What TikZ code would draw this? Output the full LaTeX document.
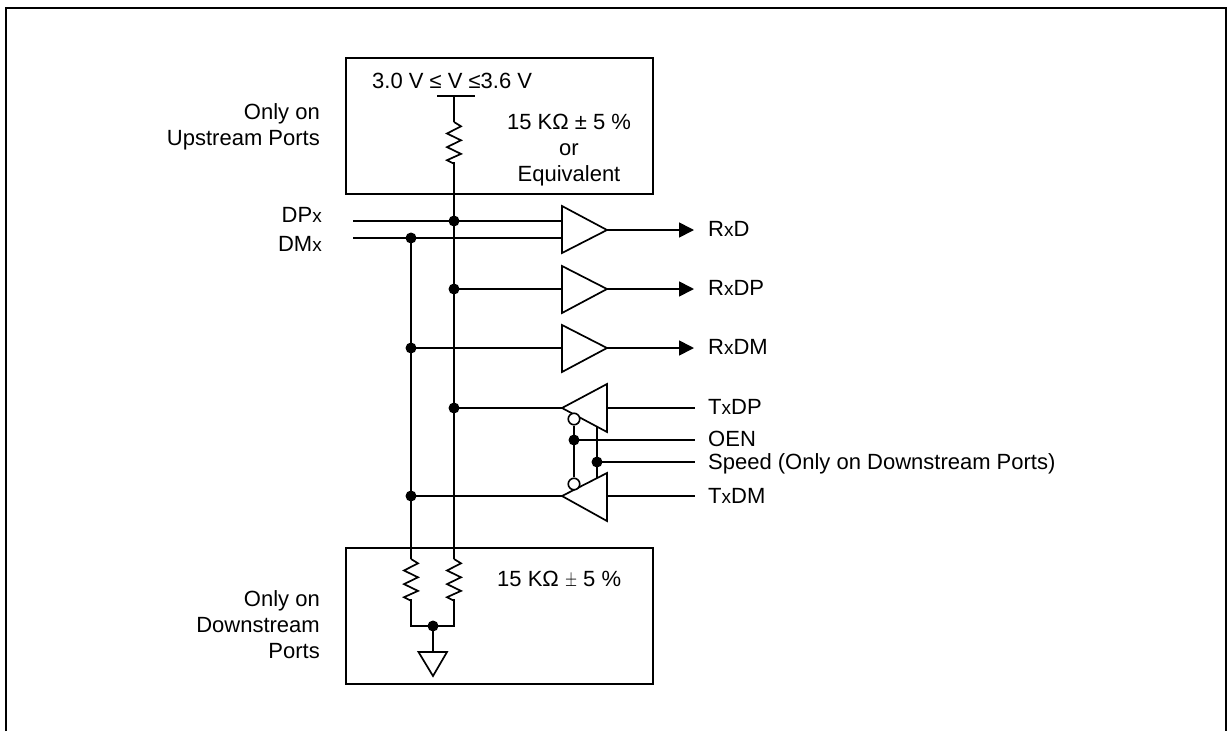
\documentclass[tikz,border=0pt]{standalone}
\usepackage{fontspec}
\setmainfont{Liberation Sans}
\usetikzlibrary{arrows.meta}
\newcommand{\smx}{{\fontsize{19}{19}\selectfont x}}
\tikzset{
  wire/.style={draw=black,line width=1.7pt,line join=miter},
  boxframe/.style={draw=black,line width=2pt,fill=none},
  outerframe/.style={draw=black,line width=2.2pt},
  amp/.style={draw=black,line width=1.7pt,fill=white,line join=miter},
  dotnode/.style={circle,fill=black,draw=none,inner sep=0pt,minimum size=11pt},
  bubble/.style={circle,fill=white,draw=black,line width=1.6pt,inner sep=0pt,minimum size=11.5pt},
  lbl/.style={inner sep=0pt,font=\fontsize{22}{26}\selectfont,text=black},
  lblL/.style={lbl,anchor=base west},
  lblR/.style={lbl,anchor=base east,align=right},
  lblC/.style={lbl,anchor=base,align=center},
  arrowwire/.style={wire,-{Triangle[length=15pt,width=15pt]}},
  resistor/.pic={\draw[wire] (0,0)--++(7,4.3)--++(-14,7.2)--++(14,6.8)--++(-14,6.8)--++(14,6.8)--++(-14,6.3)--++(7,3.6);}
}
\begin{document}
\begin{tikzpicture}[x=1pt,y=-1pt]
\useasboundingbox (0,0) rectangle (1228,731);
% outer frame, open at the bottom
\coordinate (fbl) at (6,731); \coordinate (ftl) at (6,8);
\coordinate (ftr) at (1226,8); \coordinate (fbr) at (1226,731);
\draw[outerframe] (fbl)--(ftl)--(ftr)--(fbr);
% boxes
\node[boxframe,minimum width=307pt,minimum height=136pt,inner sep=0pt,anchor=north west] (topbox) at (345,57) {};
\node[boxframe,minimum width=307pt,minimum height=136pt,inner sep=0pt,anchor=north west] (botbox) at (345,547) {};
% coordinates
\coordinate (bar) at (454,96);
\coordinate (barL) at (437,96); \coordinate (barR) at (475,96);
\coordinate (r1t) at (454,122); \coordinate (r1b) at (454,162);
\coordinate (r2t) at (411,559); \coordinate (r2b) at (411,599);
\coordinate (r3t) at (454,559); \coordinate (r3b) at (454,599);
\coordinate (jl) at (411,626); \coordinate (jr) at (454,626);
\coordinate (dpstart) at (353,221); \coordinate (dmstart) at (353,238);
\coordinate (a1ip) at (562,221); \coordinate (a1im) at (562,238);
\coordinate (a1o) at (607,230); \coordinate (a2i) at (562,289); \coordinate (a2o) at (607,289);
\coordinate (a3i) at (562,348); \coordinate (a3o) at (607,348);
\coordinate (a1e) at (694,230); \coordinate (a2e) at (694,289); \coordinate (a3e) at (694,348);
\coordinate (t1o) at (562,408); \coordinate (t1i) at (607,408); \coordinate (t1e) at (695,408);
\coordinate (t2o) at (562,496); \coordinate (t2i) at (607,496); \coordinate (t2e) at (695,496);
\coordinate (oene) at (695,440); \coordinate (spe) at (695,462);
\coordinate (spt) at (597,427); \coordinate (spb) at (597,478);
% dots
\node[dotnode] (d1) at (454,221) {};
\node[dotnode] (d2) at (411,238) {};
\node[dotnode] (d3) at (454,289) {};
\node[dotnode] (d4) at (411,348) {};
\node[dotnode] (d5) at (454,408) {};
\node[dotnode] (d6) at (411,496) {};
\node[dotnode] (d7) at (433,626) {};
\node[dotnode] (oen) at (574,440) {};
\node[dotnode] (spd) at (597,462) {};
% rails
\draw[wire] (barL)--(barR);
\draw[wire] (bar)--(r1t);
\pic at (r1t) {resistor};
\draw[wire] (r1b)--(r3t);
\draw[wire] (d2.center)--(r2t);
\pic at (r2t) {resistor};
\pic at (r3t) {resistor};
\draw[wire] (r2b)--(jl)--(jr)--(r3b);
% ground
\coordinate (gt) at (433,652); \coordinate (gl) at (418.5,652); \coordinate (gr) at (447,652); \coordinate (gb) at (433,676);
\draw[wire] (d7.center)--(gt);
\draw[wire] (gl)--(gr)--(gb)--cycle;
% inputs
\draw[wire] (dpstart)--(a1ip);
\draw[wire] (dmstart)--(a1im);
\draw[wire] (d3.center)--(a2i);
\draw[wire] (d4.center)--(a3i);
\draw[wire] (d5.center)--(t1o);
\draw[wire] (d6.center)--(t2o);
% speed wire beneath amps
\draw[wire] (spt)--(spb);
% amps
\draw[amp] (562,206)--(607,230)--(562,253)--cycle;
\draw[amp] (562,266)--(607,289)--(562,313)--cycle;
\draw[amp] (562,325)--(607,348)--(562,372)--cycle;
\draw[amp] (607,384)--(562,408)--(607,432)--cycle;
\draw[amp] (607,473)--(562,496)--(607,521)--cycle;
% outputs
\draw[arrowwire] (a1o)--(a1e);
\draw[arrowwire] (a2o)--(a2e);
\draw[arrowwire] (a3o)--(a3e);
\draw[wire] (t1i)--(t1e);
\draw[wire] (t2i)--(t2e);
% enable
\node[bubble] (b1) at (574,419) {};
\node[bubble] (b2) at (574,484) {};
\draw[wire] (b1)--(oen.center);
\draw[wire] (oen.center)--(b2);
\draw[wire] (oen.center)--(oene);
\draw[wire] (spd.center)--(spe);
% labels
\node[lblL] (tv) at (372,88) {3.0 V ≤ V ≤3.6 V};
\node[lblC] (tr) at (569,181) {15 KΩ ± 5 \%\\or\\Equivalent};
\node[lblL] (br) at (497,586) {15 KΩ \scalebox{0.75}[1]{$\pm$} 5 \%};
\node[lblR] (up) at (320,145) {Only on\\Upstream Ports};
\node[lblR] (down) at (320,658) {Only on\\Downstream\\Ports};
\node[lblR] (dpx) at (322,222) {DP\smx};
\node[lblR] (dmx) at (322,251) {DM\smx};
\node[lblL] (rxd) at (708,236) {R\smx D};
\node[lblL] (rxdp) at (708,295) {R\smx DP};
\node[lblL] (rxdm) at (708,354) {R\smx DM};
\node[lblL] (txdp) at (708,414) {T\smx DP};
\node[lblL] (oenl) at (708,446) {OEN};
\node[lblL] (spl) at (708,469) {Speed (Only on Downstream Ports)};
\node[lblL] (txdm) at (708,503) {T\smx DM};
\end{tikzpicture}
\end{document}
